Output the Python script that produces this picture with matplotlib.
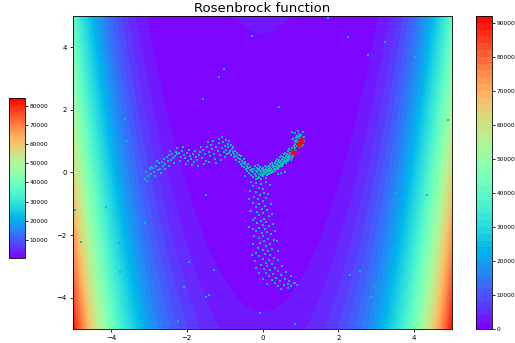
import numpy as np
import matplotlib
matplotlib.use("Agg")
import matplotlib.pyplot as plt
from matplotlib.cm import ScalarMappable
from matplotlib.colors import Normalize

# ---- data ----
x_range = [-5, 5]
y_range = [-5, 5]
n_levels = 50
left_cbar_range = [500, 84100]
title = "Rosenbrock function"

arc_x = [-3.08, -3.02, -2.98, -3.10, -2.93, -2.88, -2.85, -2.80, -2.76, -2.72, -2.70, -2.66, -2.62, -2.60,
         -2.56, -2.52, -2.50, -2.46, -2.42, -2.40, -2.36, -2.32, -2.28, -2.25, -2.20, -2.16, -2.12, -2.08,
         -2.04, -2.00, -1.96, -1.92, -1.88, -1.84, -1.80, -1.76, -1.72, -1.68, -1.64, -1.60, -1.56, -1.52,
         -1.50, -1.46, -1.42, -1.38, -1.36, -1.32, -1.28, -1.26, -1.22, -1.18, -1.14, -1.12, -1.08, -1.04,
         -1.02, -0.98, -0.95, -0.92,
         -3.05, -2.95, -2.83, -2.78, -2.68, -2.58, -2.47, -2.44, -2.34, -2.26, -2.18, -2.10, -2.02, -1.94,
         -1.86, -1.78, -1.70, -1.62, -1.54, -1.44, -1.40, -1.30, -1.24, -1.16, -1.10, -1.06, -1.00, -0.96,
         -0.93, -0.88]
arc_y = [0.02, -0.12, 0.10, -0.20, -0.05, 0.15, 0.02, 0.22, 0.08, 0.30, 0.12, 0.35, 0.20, 0.42,
         0.28, 0.48, 0.36, 0.55, 0.40, 0.60, 0.47, 0.52, 0.66, 0.58, 0.62, 0.50, 0.70, 0.56,
         0.45, 0.62, 0.38, 0.52, 0.42, 0.58, 0.34, 0.48, 0.40, 0.56, 0.64, 0.46, 0.72, 0.60,
         0.38, 0.80, 0.66, 0.52, 0.88, 0.74, 0.60, 0.42, 0.82, 0.68, 0.94, 0.55, 0.78, 0.98,
         0.64, 0.86, 0.72, 0.92,
         -0.28, 0.18, -0.10, 0.36, -0.02, 0.10, 0.22, 0.70, 0.30, 0.78, 0.36, 0.82, 0.28, 0.72,
         0.24, 0.68, 0.22, 0.80, 0.28, 0.98, 0.34, 1.00, 0.30, 1.08, 0.40, 1.12, 0.50, 1.04,
         0.58, 1.00]

desc_x = [-0.90, -0.88, -0.86, -0.84, -0.82, -0.80, -0.78, -0.77, -0.75, -0.74, -0.72, -0.70, -0.69, -0.67,
          -0.65, -0.63, -0.62, -0.60, -0.58, -0.57, -0.55, -0.53, -0.52, -0.50, -0.48, -0.47, -0.45, -0.43,
          -0.42, -0.40, -0.38, -0.37, -0.35, -0.33, -0.32, -0.30, -0.28, -0.27]
desc_y = [0.80, 0.62, 0.70, 0.88, 0.55, 0.74, 0.64, 0.82, 0.48, 0.60, 0.70, 0.52, 0.40, 0.62,
          0.46, 0.56, 0.34, 0.44, 0.28, 0.52, 0.38, 0.22, 0.30, 0.42, 0.16, 0.26, 0.34, 0.10,
          0.20, 0.04, 0.14, 0.26, -0.02, 0.08, 0.18, -0.08, 0.04, 0.12]

hub_x = [-0.25, -0.24, -0.22, -0.21, -0.20, -0.18, -0.17, -0.16, -0.15, -0.14, -0.13, -0.12, -0.11, -0.10,
         -0.09, -0.08, -0.07, -0.06, -0.05, -0.04, -0.03, -0.02, -0.01, 0.00, 0.01, 0.02, 0.03, 0.04,
         0.05, 0.06, 0.07, 0.08, 0.09, 0.10, 0.11, 0.12, 0.13, 0.14, 0.15, 0.16, 0.17, 0.18, 0.19,
         0.20, 0.21, 0.22, 0.23, 0.24, 0.25, 0.26, 0.27, 0.28, 0.29, 0.30, 0.40, 0.50, 0.60, -0.45]
hub_y = [-0.15, 0.02, 0.10, -0.06, 0.20, -0.20, 0.06, -0.10, 0.14, 0.00, -0.18, 0.08, 0.24, -0.05,
         0.12, -0.14, 0.04, 0.18, -0.08, 0.02, -0.22, 0.10, -0.04, 0.06, -0.12, 0.14, 0.00, -0.06,
         0.08, 0.20, -0.02, 0.04, -0.16, 0.12, 0.02, 0.18, -0.08, 0.08, 0.00, 0.22, 0.10, -0.04, 0.14,
         0.04, 0.26, 0.12, -0.02, 0.20, 0.08, 0.30, 0.16, 0.02, 0.24, 0.12, -0.05, -0.02, 0.02, -0.10]

rise_x = [0.32, 0.33, 0.34, 0.35, 0.36, 0.37, 0.38, 0.39, 0.40, 0.41, 0.42, 0.43, 0.44, 0.45, 0.46,
          0.47, 0.48, 0.49, 0.50, 0.51, 0.52, 0.53, 0.54, 0.55, 0.56, 0.57, 0.58, 0.59, 0.60, 0.61,
          0.62, 0.63, 0.64, 0.65, 0.66, 0.67, 0.68, 0.69, 0.70, 0.71, 0.72, 0.73, 0.74, 0.75, 0.76,
          0.77, 0.78, 0.79, 0.80, 0.81, 0.82, 0.83, 0.84, 0.85, 0.86, 0.87, 0.88, 0.89, 0.90]
rise_y = [0.30, 0.06, 0.20, 0.38, 0.12, 0.26, 0.44, 0.18, 0.32, 0.10, 0.24, 0.40, 0.16, 0.30, 0.48,
          0.22, 0.36, 0.54, 0.28, 0.42, 0.20, 0.34, 0.50, 0.26, 0.40, 0.58, 0.32, 0.46, 0.62, 0.38,
          0.52, 0.30, 0.44, 0.60, 0.36, 0.50, 0.68, 0.42, 0.56, 0.74, 0.48, 0.62, 0.40, 0.54, 0.70,
          0.46, 0.60, 0.78, 0.52, 0.66, 0.84, 0.58, 0.72, 0.90, 0.64, 0.78, 0.96, 0.70, 0.84]

top_x = [0.86, 0.88, 0.90, 0.91, 0.92, 0.93, 0.94, 0.95, 0.96, 0.97, 0.98, 0.99, 1.00, 1.01, 1.02,
         1.03, 1.04, 1.05, 1.06, 1.07, 1.08, 1.09, 1.10, 0.87, 0.93, 0.80, 0.78]
top_y = [1.02, 1.10, 0.94, 1.18, 1.04, 0.88, 1.12, 1.24, 0.98, 1.08, 0.80, 1.16, 0.92, 1.02, 1.20,
         0.86, 1.10, 0.96, 1.28, 1.04, 0.90, 1.14, 1.00, 1.26, 1.34, 1.08, 1.30]

branch_x = [-0.30, -0.18, -0.05, 0.08, -0.24, -0.10, 0.02, -0.32, -0.16, 0.05, -0.06, -0.22, 0.10, -0.12,
            0.00, -0.26, -0.08, 0.06, -0.18, -0.02, 0.12, -0.14, 0.02, -0.08, 0.16, -0.20, 0.04, -0.04,
            0.10, -0.14, 0.00, 0.18, -0.08, 0.06, -0.16, 0.12, -0.02, 0.22, 0.02, -0.10, 0.14, 0.30,
            0.04, -0.06, 0.20, 0.08, -0.12, 0.26, 0.00, 0.14, -0.18, 0.06, 0.20, -0.08, 0.30, 0.02,
            0.16, -0.20, 0.08, 0.24, -0.04, 0.12, 0.34, 0.04, 0.20, 0.40, 0.10, 0.28, 0.50, 0.16,
            0.36, 0.60, 0.24, 0.46, 0.70, 0.32, 0.56, 0.84, 0.40, 0.66,
            0.20, 0.14, -0.36, 0.22, -0.30, 0.26, -0.24, 0.28, -0.26, 0.34, -0.22, 0.38, -0.24,
            0.40, -0.28, 0.42, -0.16, 0.52, -0.10, 0.62, 0.02, 0.76, 0.12, 0.92, 0.50, 0.74]
branch_y = [-0.30, -0.34, -0.38, -0.30, -0.44, -0.48, -0.52, -0.58, -0.62, -0.66, -0.72, -0.78, -0.80, -0.86,
            -0.92, -0.96, -1.00, -1.06, -1.10, -1.16, -1.20, -1.26, -1.30, -1.36, -1.40, -1.44, -1.48, -1.54,
            -1.58, -1.62, -1.68, -1.72, -1.76, -1.82, -1.86, -1.90, -1.94, -1.98, -2.04, -2.08, -2.12, -2.16,
            -2.20, -2.26, -2.30, -2.34, -2.40, -2.44, -2.48, -2.52, -2.56, -2.60, -2.64, -2.68, -2.72, -2.76,
            -2.80, -2.84, -2.88, -2.92, -2.96, -3.00, -3.04, -3.08, -3.12, -3.16, -3.20, -3.24, -3.28, -3.32,
            -3.36, -3.40, -3.44, -3.48, -3.46, -3.54, -3.58, -3.52, -3.64, -3.68,
            -0.40, -0.70, -0.84, -1.00, -1.22, -1.32, -1.52, -1.64, -1.80, -1.86, -2.02, -2.20, -2.30,
            -2.50, -2.62, -2.78, -3.04, -2.98, -3.22, -3.18, -3.40, -3.30, -3.56, -3.60, -3.72, -3.62]

out_x = [-4.43, -0.27, -4.09, -1.01, -1.16, -1.58, -3.63, -3.58, -3.96, 1.74, 2.25, 3.22, 2.79, 4.03,
         0.44, 4.89, -1.50, -4.14, -4.96, -3.09, 3.51, 4.33, 3.64, -4.79, -3.79, -1.93, -3.77, -1.29,
         -2.07, -1.49, -1.41, -2.22, -0.07, 0.85, 2.30, 2.56, 2.93, 2.85, 3.46, 3.31, -0.35, -0.32,
         0.68, 0.87]
out_y = [4.61, 4.36, 3.37, 3.32, 3.06, 2.34, 1.70, 1.00, 0.76, 4.94, 4.33, 4.18, 3.76, 3.70,
         2.08, 1.68, -0.71, -1.09, -1.21, -1.61, -0.66, -0.71, -1.59, -2.21, -2.24, -2.85, -3.17, -3.11,
         -3.67, -3.98, -3.91, -4.74, -4.50, -4.84, -3.27, -3.16, -3.63, -3.99, -3.13, -4.38, -1.74, -1.23,
         -3.56, -3.52]

best_x = [1.02, 0.96, 0.81]
best_y = [1.03, 0.92, 0.66]

# ---- figure ----
fig = plt.figure(figsize=(5.15, 3.43), dpi=100)
W, H = 515, 343
ax = fig.add_axes([73 / W, (H - 329) / H, 379 / W, 313 / H])
cax_r = fig.add_axes([476 / W, (H - 329) / H, 16 / W, 313 / H])
cax_l = fig.add_axes([9 / W, (H - 258) / H, 16 / W, 160 / H])

gx = np.linspace(x_range[0], x_range[1], 600)
gy = np.linspace(y_range[0], y_range[1], 600)
X, Y = np.meshgrid(gx, gy)
Z = (1 - X) ** 2 + 100 * (Y - X ** 2) ** 2
cs = ax.contourf(X, Y, Z, levels=n_levels, cmap="rainbow")

px = arc_x + desc_x + hub_x + rise_x + top_x + branch_x + out_x
py = arc_y + desc_y + hub_y + rise_y + top_y + branch_y + out_y
ax.scatter(px, py, s=4.5, marker="s", color="c", linewidths=0)
ax.scatter(best_x, best_y, s=60, marker="*", color="red", linewidths=0, zorder=3)

ax.set_xlim(x_range)
ax.set_ylim(y_range)
ax.set_xticks([-4, -2, 0, 2, 4])
ax.set_yticks([-4, -2, 0, 2, 4])
ax.tick_params(labelsize=5, length=2.5, width=0.6, pad=2)
for s in ax.spines.values():
    s.set_linewidth(0.6)
ax.set_title(title, fontsize=9.5, pad=3)

cb_r = fig.colorbar(cs, cax=cax_r)
cb_r.set_ticks(np.arange(0, 90001, 10000))
cb_r.ax.tick_params(labelsize=4.2, length=2, width=0.6, pad=1.5)
cb_r.outline.set_linewidth(0.6)

sm = ScalarMappable(norm=Normalize(left_cbar_range[0], left_cbar_range[1]), cmap="rainbow")
cb_l = fig.colorbar(sm, cax=cax_l)
cb_l.set_ticks(np.arange(10000, 80001, 10000))
cb_l.ax.tick_params(labelsize=4.2, length=2, width=0.6, pad=1.5)
cb_l.outline.set_linewidth(0.6)

fig.savefig("out.png", dpi=100)
